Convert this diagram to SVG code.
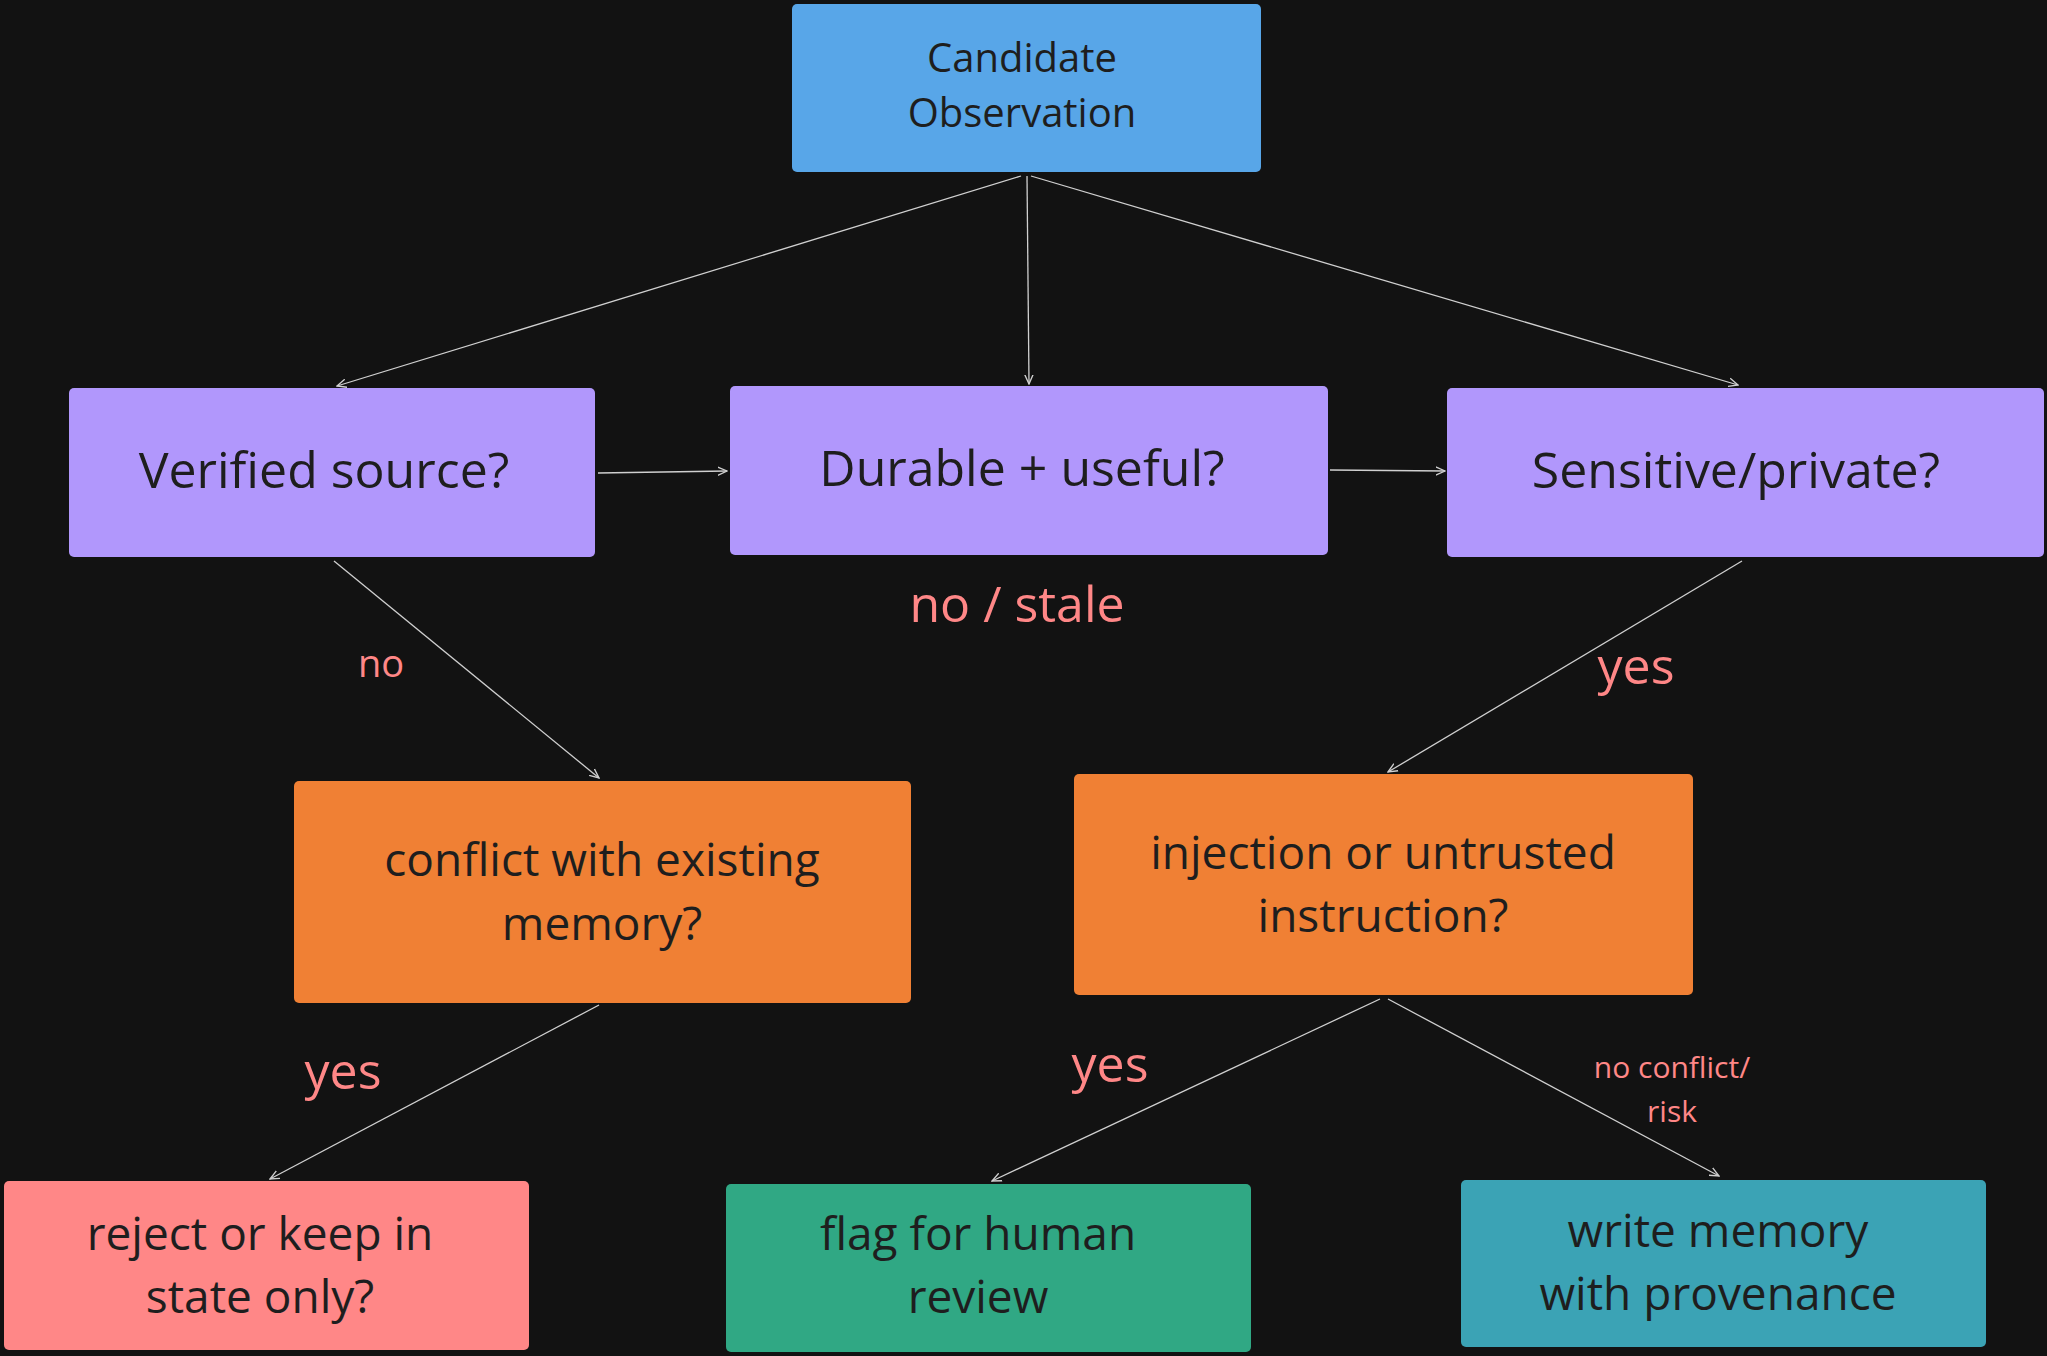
<svg xmlns="http://www.w3.org/2000/svg" width="2047" height="1356" viewBox="0 0 2047 1356">
<style>
.t{font-family:"Open Sans","Liberation Sans",sans-serif;fill:#1e1e1e;text-anchor:middle}
.l{font-family:"Open Sans","Liberation Sans",sans-serif;fill:#ff8787;text-anchor:middle}
.e{stroke:#d0d0d0;stroke-width:1.3;fill:none;marker-end:url(#a)}
</style>
<defs><marker id="a" viewBox="0 0 10 10" refX="9" refY="5" markerWidth="8" markerHeight="8" orient="auto"><path d="M0,1 L9,5 L0,9" fill="none" stroke="#d0d0d0" stroke-width="1.3"/></marker></defs>
<rect width="2047" height="1356" fill="#121212"/>
<g id="n1"><rect x="792" y="4" width="469" height="168" rx="5" fill="#58a6e8"/><text class="t" x="1022" y="72" font-size="40">Candidate</text><text class="t" x="1022" y="127" font-size="40">Observation</text></g>
<g id="n2"><rect x="69" y="388" width="526" height="169" rx="5" fill="#b197fc"/><text class="t" x="324" y="488" font-size="50">Verified source?</text></g>
<g id="n3"><rect x="730" y="386" width="598" height="169" rx="5" fill="#b197fc"/><text class="t" x="1022" y="486" font-size="50">Durable + useful?</text></g>
<g id="n4"><rect x="1447" y="388" width="597" height="169" rx="5" fill="#b197fc"/><text class="t" x="1736" y="488" font-size="50">Sensitive/private?</text></g>
<g id="n5"><rect x="294" y="781" width="617" height="222" rx="5" fill="#f08034"/><text class="t" x="602" y="876" font-size="46">conflict with existing</text><text class="t" x="602" y="940" font-size="46">memory?</text></g>
<g id="n6"><rect x="1074" y="774" width="619" height="221" rx="5" fill="#f08034"/><text class="t" x="1383" y="869" font-size="46">injection or untrusted</text><text class="t" x="1383" y="932" font-size="46">instruction?</text></g>
<g id="n7"><rect x="4" y="1181" width="525" height="169" rx="5" fill="#ff8787"/><text class="t" x="260" y="1250" font-size="46">reject or keep in</text><text class="t" x="260" y="1313" font-size="46">state only?</text></g>
<g id="n8"><rect x="726" y="1184" width="525" height="168" rx="5" fill="#30a884"/><text class="t" x="978" y="1250" font-size="46">flag for human</text><text class="t" x="978" y="1313" font-size="46">review</text></g>
<g id="n9"><rect x="1461" y="1180" width="525" height="167" rx="5" fill="#3ba3b5"/><text class="t" x="1718" y="1247" font-size="46">write memory</text><text class="t" x="1718" y="1310" font-size="46">with provenance</text></g>
<g id="edges">
<path class="e" d="M1021,176 L337,386"/>
<path class="e" d="M1027,176 L1029,384"/>
<path class="e" d="M1031,176 L1738,385"/>
<path class="e" d="M598,473 L727,471"/>
<path class="e" d="M1330,470 L1445,471"/>
<path class="e" d="M334,561 L599,778"/>
<path class="e" d="M1742,561 L1388,772"/>
<path class="e" d="M599,1005 L270,1179"/>
<path class="e" d="M1380,999 L992,1181"/>
<path class="e" d="M1388,999 L1719,1176"/>
<text class="l" x="381" y="677" font-size="38">no</text>
<text class="l" x="1017" y="622" font-size="50">no / stale</text>
<text class="l" x="1636" y="684" font-size="50">yes</text>
<text class="l" x="343" y="1089" font-size="50">yes</text>
<text class="l" x="1110" y="1082" font-size="50">yes</text>
<text class="l" x="1672" y="1078" font-size="30">no conflict/</text>
<text class="l" x="1672" y="1122" font-size="30">risk</text>
</g>
</svg>
